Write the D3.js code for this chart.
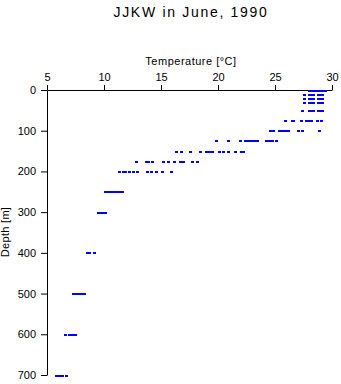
<!DOCTYPE html>
<html><head><meta charset="utf-8">
<script src="https://cdn.jsdelivr.net/npm/d3@7"></script>
<style>
body{margin:0;background:#fff;}
svg{display:block;font-family:"Liberation Sans",Arial,sans-serif;}
</style></head>
<body>
<svg id="chart" width="341" height="384"></svg>
<script>
const titleText = "JJKW in June, 1990";
const xLabel = "Temperature [°C]";
const yLabel = "Depth [m]";
const xTicks = [5, 10, 15, 20, 25, 30];
const yTicks = [0, 100, 200, 300, 400, 500, 600, 700];
const depthLevels = [0, 10, 20, 30, 50, 75, 100, 125, 150, 175, 200, 250, 300, 400, 500, 600, 700];
const temperatureByDepth = [
  [27.95, 28.1, 28.3, 28.5, 28.7, 28.9, 29.1, 29.25, 29.4],
  [27.55, 27.95, 28.1, 28.3, 28.75, 28.9, 29.1],
  [27.55, 27.95, 28.1, 28.3, 28.75, 28.9, 29.1],
  [27.55, 27.95, 28.1, 28.3, 28.75, 28.9, 29.1],
  [27.4, 27.95, 28.1, 28.3, 28.75, 28.9, 29.1],
  [25.9, 26.45, 26.6, 27.3, 27.75, 27.95, 28.2, 28.65, 29.05],
  [24.6, 24.85, 25.35, 25.55, 25.7, 25.95, 26.1, 27.05, 27.35, 28.9],
  [19.85, 20.85, 21.95, 22.4, 22.65, 22.9, 23.2, 23.45, 24.25, 24.5, 24.75, 25.05],
  [16.3, 16.75, 17.55, 18.4, 18.95, 19.2, 19.45, 20.1, 20.4, 20.85, 21.5, 22.0, 22.2],
  [12.85, 13.65, 13.9, 14.2, 15.2, 15.6, 16.15, 16.7, 16.95, 17.75, 18.15],
  [11.3, 11.65, 11.85, 12.2, 12.55, 12.9, 13.8, 14.1, 14.55, 15.1, 15.9],
  [10.1, 10.35, 10.6, 10.85, 11.1, 11.35, 11.6],
  [9.5, 9.7, 9.9, 10.05],
  [8.5, 8.65, 9.1],
  [7.3, 7.55, 7.8, 8.05, 8.25],
  [6.6, 6.9, 7.2, 7.45],
  [5.8, 6.0, 6.2, 6.3, 6.67]
];

const points = [];
depthLevels.forEach((d, i) => temperatureByDepth[i].forEach(t => points.push({depth: d, temp: t})));

const svg = d3.select("#chart");
const x = d3.scaleLinear().domain([5, 30]).range([47, 332]);
const y = d3.scaleLinear().domain([0, 700]).range([90, 375]);

svg.append("text")
  .attr("x", 191).attr("y", 17)
  .attr("text-anchor", "middle")
  .attr("font-size", 14).attr("letter-spacing", 1.7)
  .attr("fill", "#000")
  .text(titleText);

const xAxis = svg.append("g").attr("transform", "translate(0,90)")
  .call(d3.axisTop(x).tickValues(xTicks).tickSize(5).tickSizeOuter(0).tickPadding(4).tickFormat(d3.format("d")));
xAxis.selectAll("text").attr("font-size", 11).attr("font-family", "Liberation Sans, Arial, sans-serif").attr("fill", "#000");
xAxis.select(".domain").attr("stroke", "#000");
xAxis.selectAll("line").attr("stroke", "#000");

const yAxis = svg.append("g").attr("transform", "translate(47,0)")
  .call(d3.axisLeft(y).tickValues(yTicks).tickSize(6).tickSizeOuter(0).tickPadding(5).tickFormat(d3.format("d")));
yAxis.selectAll("text").attr("font-size", 11).attr("font-family", "Liberation Sans, Arial, sans-serif").attr("fill", "#000");
yAxis.select(".domain").attr("stroke", "#000");
yAxis.selectAll("line").attr("stroke", "#000");

svg.append("text")
  .attr("x", 191).attr("y", 65)
  .attr("text-anchor", "middle")
  .attr("font-size", 11).attr("letter-spacing", 0.5)
  .attr("fill", "#000")
  .text(xLabel);

svg.append("text")
  .attr("transform", "translate(9,232) rotate(-90)")
  .attr("text-anchor", "middle")
  .attr("font-size", 11).attr("letter-spacing", 0.3)
  .attr("fill", "#000")
  .text(yLabel);

svg.append("g").selectAll("rect").data(points).join("rect")
  .attr("x", d => Math.round(x(d.temp) - 1))
  .attr("y", d => Math.round(y(d.depth) - 0.5))
  .attr("width", 3).attr("height", 2)
  .attr("shape-rendering", "crispEdges")
  .attr("fill", "#0000ff");
</script>
</body></html>
